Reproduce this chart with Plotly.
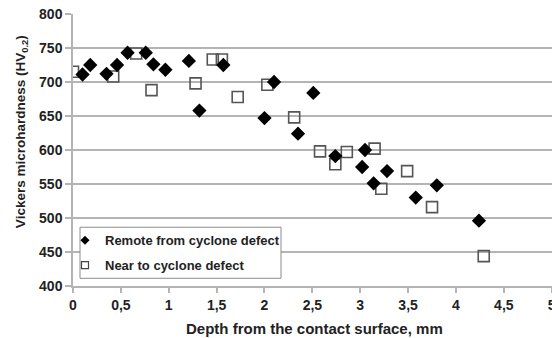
import plotly.graph_objects as go

# Remote from cyclone defect (filled diamonds)
remote_depth = [0.10, 0.18, 0.35, 0.46, 0.57, 0.76, 0.84, 0.965, 1.21, 1.32, 1.57,
                2.00, 2.10, 2.35, 2.51, 2.74, 3.02, 3.05, 3.14, 3.28, 3.58, 3.80, 4.24]
remote_hv = [711, 725, 712, 725, 743, 743, 726, 718, 731, 658, 725,
             647, 700, 624, 684, 591, 575, 600, 551, 569, 530, 548, 496]

# Near to cyclone defect (open squares)
near_depth = [0.00, 0.42, 0.66, 0.82, 1.28, 1.46, 1.555, 1.72, 2.03, 2.31, 2.58,
              2.74, 2.86, 3.15, 3.22, 3.49, 3.75, 4.29]
near_hv = [715, 708, 742, 688, 698, 733, 733, 678, 696, 648, 598,
           579, 597, 602, 543, 569, 516, 444]

x_ticks = [0, 0.5, 1, 1.5, 2, 2.5, 3, 3.5, 4, 4.5, 5]
x_ticklabels = ["0", "0,5", "1", "1,5", "2", "2,5", "3", "3,5", "4", "4,5", "5"]

FONT = "Liberation Sans, Arial, sans-serif"
TXT = "#222222"
GRID = "#b4b4b4"

fig = go.Figure()

fig.add_trace(go.Scatter(
    x=near_depth, y=near_hv, mode="markers", showlegend=False,
    marker=dict(symbol="square-open", size=11, color="#555555", line=dict(width=1.6)),
))
fig.add_trace(go.Scatter(
    x=remote_depth, y=remote_hv, mode="markers", showlegend=False,
    marker=dict(symbol="diamond", size=11, color="#000000"),
))

# legend-only entries (small symbols, as in the reference legend)
fig.add_trace(go.Scatter(
    x=[None], y=[None], mode="markers", name="<b>Remote from cyclone defect</b>",
    legendgroup="a",
    marker=dict(symbol="diamond", size=7, color="#000000"),
))
fig.add_trace(go.Scatter(
    x=[None], y=[None], mode="markers", name="<b>Near to cyclone defect</b>",
    legendgroup="b",
    marker=dict(symbol="square-open", size=7, color="#444444", line=dict(width=1.2)),
))

fig.update_layout(
    width=552, height=338,
    margin=dict(l=73, r=0, t=14, b=52),
    paper_bgcolor="white", plot_bgcolor="white",
    font=dict(family=FONT, size=13, color=TXT),
    shapes=[dict(
        type="rect", xref="paper", yref="paper", layer="above",
        x0=(80 - 73) / 479, x1=(281 - 73) / 479,
        y0=(285.7 - 278) / 271.7, y1=(285.7 - 227) / 271.7,
        fillcolor="white", line=dict(color="#8c8c8c", width=1),
    )],
    legend=dict(
        x=(65 - 73) / 479, y=(285.7 - 225) / 271.7, xanchor="left", yanchor="top",
        bgcolor="rgba(0,0,0,0)", borderwidth=0,
        font=dict(family=FONT, size=13, color=TXT),
        traceorder="grouped", tracegroupgap=5,
        itemwidth=30,
    ),
    annotations=[
        dict(text="<b>Vickers microhardness (HV<sub>0.2</sub>)</b>",
             xref="paper", yref="paper", x=(21 - 73) / 479, y=(285.7 - 132) / 271.7,
             xanchor="center", yanchor="middle", textangle=-90, showarrow=False,
             font=dict(family=FONT, size=13.5, color=TXT)),
        dict(text="<b>Depth from the contact surface, mm</b>",
             xref="paper", yref="paper", x=(314 - 73) / 479, y=(285.7 - 328) / 271.7,
             xanchor="center", yanchor="middle", showarrow=False,
             font=dict(family=FONT, size=15, color=TXT)),
    ],
    xaxis=dict(
        range=[0, 5.003], tickvals=x_ticks, ticktext=x_ticklabels,
        showgrid=False, zeroline=False, automargin=False,
        ticklabeloverflow="allow",
        showline=True, linecolor=GRID, linewidth=1.5,
        ticks="outside", ticklen=5, tickcolor=GRID, tickwidth=1.5,
        tickfont=dict(family=FONT, size=14, color=TXT, weight="bold"),
    ),
    yaxis=dict(
        range=[400, 800], dtick=50, automargin=False,
        showgrid=True, gridcolor=GRID, gridwidth=1.5, zeroline=False,
        showline=True, linecolor=GRID, linewidth=1.5,
        ticks="outside", ticklen=6, tickcolor=GRID, tickwidth=1.5,
        tickfont=dict(family=FONT, size=14, color=TXT, weight="bold"),
    ),
)

fig.write_html("out.html", config={"displayModeBar": False},
               post_script="document.body.style.margin='0';")
